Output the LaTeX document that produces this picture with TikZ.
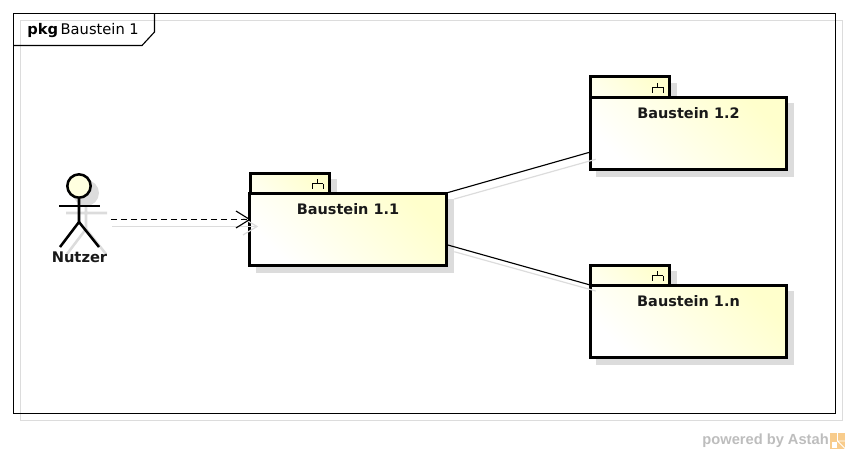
\documentclass[tikz,border=0pt]{standalone}
\usepackage{fontspec}
\setmainfont{DejaVu Sans}
\newfontfamily\logofont{Liberation Sans}
\usetikzlibrary{arrows}
\usetikzlibrary{calc}
\definecolor{boxyellow}{HTML}{FFFFCC}
\definecolor{shadowgray}{HTML}{DCDCDC}
\definecolor{logoorange}{HTML}{F8CC8C}
\tikzstyle{frameline}  = [
    draw,
    line width=0.85pt
]
\tikzstyle{frameshadow}  = [
    draw=shadowgray,
    line width=0.85pt
]
\tikzstyle{pkgbody}  = [
    shape=rectangle,
    draw,
    line width=2.25pt,
    outer sep=0pt,
    inner sep=0pt,
    left color=white,
    right color=boxyellow,
    shading angle=135,
    minimum width=147.5pt,
    minimum height=54pt
]
\tikzstyle{pkgtab}  = [
    pkgbody,
    left color=boxyellow!35,
    right color=boxyellow,
    shading angle=135,
    minimum width=59.25pt,
    minimum height=15pt
]
\tikzstyle{bodyshadow}  = [
    shape=rectangle,
    fill=shadowgray,
    outer sep=0pt,
    inner sep=0pt,
    minimum width=149pt,
    minimum height=55.5pt
]
\tikzstyle{tabshadow}  = [
    bodyshadow,
    minimum width=60.75pt,
    minimum height=16.5pt
]
\tikzstyle{pkgname}  = [
    font=\bfseries\fontsize{10.85}{12}\selectfont,
    inner sep=0pt,
    text=black!90
]
\tikzstyle{tran}  = [
    draw,
    line width=0.85pt
]
\tikzstyle{transhadow}  = [
    draw=shadowgray,
    line width=0.9pt
]
\tikzstyle{stick}  = [
    line width=1.9pt
]
\newcommand{\forkicon}[1]{
  \draw[line width=0.6pt] ([shift={(-11.5,-14)}]#1.south east) -- ++(0,4.5) ++(-5.5,0) -- ++(11,0)
    ++(0,5.5) -- ++(0,-5.5) ++(-11,0) -- ++(0,5.5);
}

\begin{document}
\begin{tikzpicture}[x = 0.75pt, y = -0.75pt]
\useasboundingbox (0,0) rectangle (849,453);

% outer frame
\draw[frameshadow] (20.5,20.5) rectangle (842.5,420.5);
\draw[frameline] (13.5,13.5) rectangle (835.5,413.5);
\draw[frameline] (13.5,45.5) -- (142,45.5) -- (154.5,32) -- (154.5,13.5);
\node[inner sep=0pt, anchor=west, font=\fontsize{11}{12}\selectfont] (title) at (27,31) {\textbf{pkg}\hspace{2pt}Baustein 1};

% shadows
\node[tabshadow]  (st11) at (296,190) {};
\node[bodyshadow] (s11)  at (355,236) {};
\node[tabshadow]  (st12) at (636,94)  {};
\node[bodyshadow] (s12)  at (695,140) {};
\node[tabshadow]  (st1n) at (636,282) {};
\node[bodyshadow] (s1n)  at (695,328) {};

% packages
\node[pkgtab]  (t11) at (289.5,183) {};
\node[pkgbody] (b11) at (348,229)   {};
\node[pkgtab]  (t12) at (629.5,87)  {};
\node[pkgbody] (b12) at (688.5,133) {};
\node[pkgtab]  (t1n) at (629.5,275) {};
\node[pkgbody] (b1n) at (688.5,321) {};
\forkicon{t11}
\forkicon{t12}
\forkicon{t1n}
\node[pkgname] (n11) at (348,209) {Baustein 1.1};
\node[pkgname] (n12) at (688.5,113) {Baustein 1.2};
\node[pkgname] (n1n) at (688.5,301) {Baustein 1.n};

% actor
\coordinate (nutzerhip) at (79,222);
\coordinate (nutzerout) at (111,219.5);
\coordinate (nutzershadow) at (112,226.5);
\node[circle, draw=shadowgray, fill=shadowgray, stick, inner sep=0pt, minimum size=17.5pt] (headshadow) at (86,193) {};
\draw[transhadow, stick] (66,213) -- (107,213) (86,206) -- (86,229) -- (67,254) (86,229) -- (106,254);
\node[circle, draw, fill=boxyellow!60, stick, inner sep=0pt, minimum size=17.5pt] (head) at (79,186) {};
\draw[stick] (head) -- (nutzerhip) -- (60,247);
\draw[stick] (nutzerhip) -- (99,247);
\draw[stick] (59,206) -- (100,206);
\node[pkgname, font=\bfseries\fontsize{11}{12}\selectfont] (nutzer) at (79.5,257) {Nutzer};

% connectors
\draw[transhadow] (nutzershadow) -- (b11.west |- nutzershadow) -- ++(7,0);
\draw[transhadow] (243,218) -- (257,226.5) -- (243,235);
\draw[tran, dash pattern=on 4.5pt off 3pt] (nutzerout) -- (b11.west |- nutzerout);
\draw[tran] (236,211) -- (b11.west |- nutzerout) -- (236,228);
\draw[transhadow] (s11.north east) -- (s12.191);
\draw[transhadow] (s11.-9) -- (s1n.north west);
\draw[tran] (b11.north east) -- (b12.191);
\draw[tran] (b11.-9) -- (b1n.north west);

% logo
\node[inner sep=0pt, anchor=east, text=black!26, font=\logofont\bfseries\fontsize{11}{12}\selectfont] (powered) at (829,441) {powered by Astah};
\node[fill=logoorange, inner sep=0pt, minimum size=11.5pt] (logo) at (837.5,441) {};
\draw[white, line width=0.7pt] (logo.north) -- (logo.center) -- (logo.south east) (logo.center) -- (logo.east);
\fill[white] (832,442) rectangle (837,448);
\end{tikzpicture}
\end{document}
